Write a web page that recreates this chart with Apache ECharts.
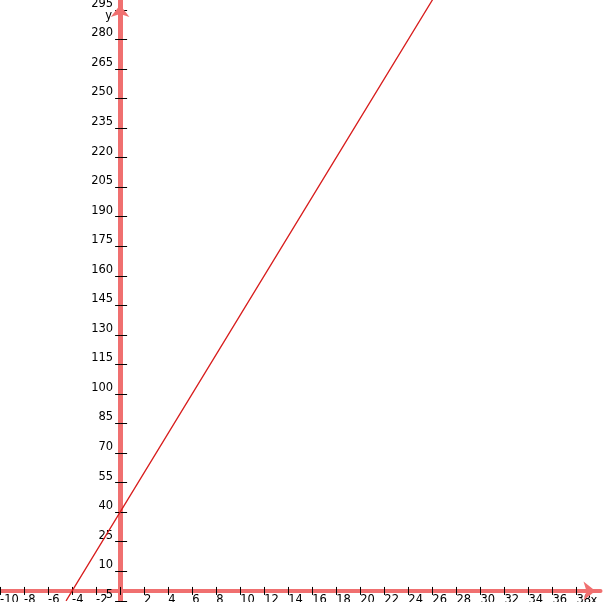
<!DOCTYPE html>
<html>
<head>
<meta charset="utf-8">
<script src="https://cdn.jsdelivr.net/npm/echarts@6/dist/echarts.min.js"></script>
<style>
html,body{margin:0;padding:0;background:#fff;}
#c{width:608px;height:602px;}
</style>
</head>
<body>
<div id="c"></div>
<script>
// Data (line y ≈ 10x + 40)
var lineX = [-4.5, 0, 10, 20, 26.5];
var lineY = [-5, 40, 140, 240, 305];

// Tick values
var xTicks = [-10,-8,-6,-4,-2,0,2,4,6,8,10,12,14,16,18,20,22,24,26,28,30,32,34,36,38];
var xLabels = [-10,-8,-6,-4,-2,2,4,6,8,10,12,14,16,18,20,22,24,26,28,30,32,34,36,38];
var yTicks = [-5,10,25,40,55,70,85,100,115,130,145,160,175,190,205,220,235,250,265,280,295];

var X_MIN = -10, X_MAX = 40, Y_MIN = -5, Y_MAX = 300;
var AXIS_COLOR = '#f07070';
var FONT = 'DejaVu Sans';
var W = 608, H = 602;
var GRID = {left: 0, right: 7.5, top: 0, bottom: 1.2};
var gridW = W - GRID.left - GRID.right;
var gridH = H - GRID.top - GRID.bottom;
// label axes are shifted from the grid edge to the zero lines
var yLabelOffset = -gridW * (0 - X_MIN) / (X_MAX - X_MIN);
var xLabelOffset = -gridH * (0 - Y_MIN) / (Y_MAX - Y_MIN);

var chart = echarts.init(document.getElementById('c'), null, {renderer: 'canvas'});

function xAxisCfg(main) {
  return {
    type: 'value', min: X_MIN, max: X_MAX,
    position: main ? 'bottom' : 'top',
    name: main ? 'x' : '',
    nameLocation: 'end', nameGap: -10,
    nameTextStyle: {color: '#000', fontFamily: FONT, fontSize: 11.5, align: 'left', verticalAlign: 'top', padding: [4,0,0,0]},
    axisLine: {
      show: true, onZero: true, onZeroAxisIndex: main ? 0 : 1,
      symbol: main ? ['none','arrow'] : 'none', symbolSize: [14, 12], symbolOffset: [0, -5],
      lineStyle: {color: main ? AXIS_COLOR : 'rgba(0,0,0,0)', width: 4}
    },
    axisTick: {show: true, customValues: xTicks, length: 4, lineStyle: {color: '#000', width: 1}},
    axisLabel: {show: false},
    splitLine: {show: false}
  };
}
function yAxisCfg(main) {
  return {
    type: 'value', min: Y_MIN, max: Y_MAX,
    position: main ? 'left' : 'right',
    name: main ? 'y' : '',
    nameLocation: 'end', nameGap: -22,
    nameTextStyle: {color: '#000', fontFamily: FONT, fontSize: 11.5, align: 'right', verticalAlign: 'bottom', lineHeight: 12, padding: [0,8,0,0]},
    axisLine: {
      show: true, onZero: true, onZeroAxisIndex: main ? 0 : 1,
      symbol: main ? ['none','arrow'] : 'none', symbolSize: [14, 12], symbolOffset: [0, -5],
      lineStyle: {color: main ? AXIS_COLOR : 'rgba(0,0,0,0)', width: 5}
    },
    axisTick: {show: true, customValues: yTicks, length: main ? 5 : 7, lineStyle: {color: '#000', width: 1}},
    axisLabel: {show: false},
    splitLine: {show: false}
  };
}
var xLabelAxis = {
  type: 'value', min: X_MIN, max: X_MAX, position: 'bottom', offset: xLabelOffset,
  axisLine: {show: false, onZero: false}, axisTick: {show: false}, splitLine: {show: false},
  axisLabel: {show: true, customValues: xLabels, align: 'left', margin: 3, color: '#000',
              fontFamily: FONT, fontSize: 11.5, lineHeight: 12}
};
var yLabelAxis = {
  type: 'value', min: Y_MIN, max: Y_MAX, position: 'left', offset: yLabelOffset,
  axisLine: {show: false, onZero: false}, axisTick: {show: false}, splitLine: {show: false},
  axisLabel: {show: true, customValues: yTicks, margin: 7, color: '#000',
              fontFamily: FONT, fontSize: 11.5, verticalAlign: 'bottom', lineHeight: 12}
};

var pts = lineX.map(function (x, i) { return [x, lineY[i]]; });

chart.setOption({
  backgroundColor: '#ffffff',
  animation: false,
  grid: {left: GRID.left, right: GRID.right, top: GRID.top, bottom: GRID.bottom,
         outerBounds: {left: -200, right: -200, top: -200, bottom: -200}},
  xAxis: [xAxisCfg(true), xAxisCfg(false), xLabelAxis],
  yAxis: [yAxisCfg(true), yAxisCfg(false), yLabelAxis],
  series: [{
    type: 'line', xAxisIndex: 0, yAxisIndex: 0,
    data: pts, showSymbol: false, clip: true, z: 5,
    lineStyle: {color: '#d81e1e', width: 1.3}
  }]
});
</script>
</body>
</html>
